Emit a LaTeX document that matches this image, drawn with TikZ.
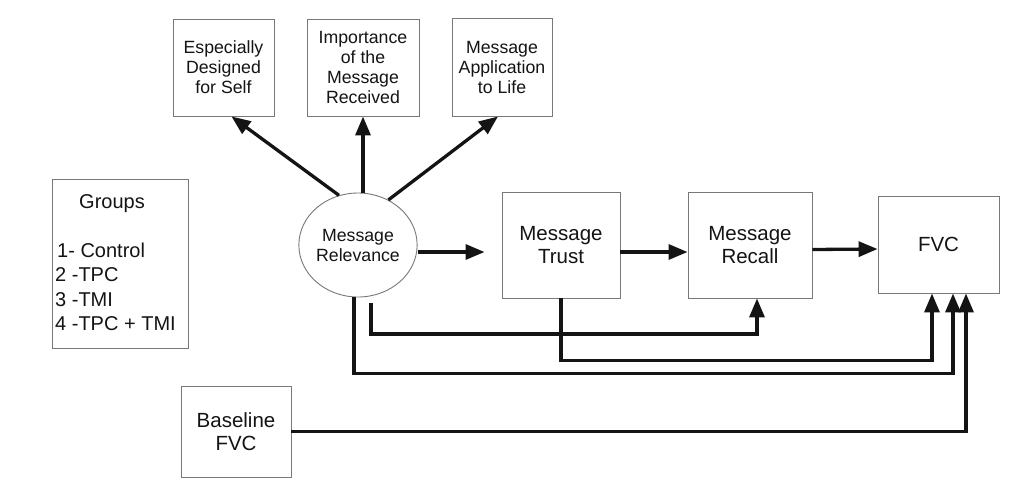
\documentclass[tikz,border=0pt]{standalone}
\usepackage{fontspec}
\setmainfont{Liberation Sans}
\usetikzlibrary{arrows.meta,shapes.geometric}
\definecolor{boxgray}{RGB}{120,120,120}
\definecolor{inkc}{RGB}{20,20,20}
\tikzset{
  box/.style={draw=boxgray, line width=0.9pt, fill=white, align=center, inner sep=0pt,
    text=inkc, font=\fontsize{17.7}{20}\selectfont},
  bigbox/.style={box, font=\fontsize{20.5}{23}\selectfont},
  arr/.style={draw=inkc, line width=3.3pt, -{Triangle[length=19pt,width=15pt]}},
  txt/.style={inner sep=0pt, text=inkc, font=\fontsize{20}{24}\selectfont, anchor=base west}
}
\begin{document}
\begin{tikzpicture}[x=1pt,y=-1pt]
\useasboundingbox (0,0) rectangle (1010,480);
% top boxes
\node[box, minimum width=101pt, minimum height=97pt] (b1) at (223.5,67.5) {Especially\\Designed\\for Self};
\node[box, minimum width=112pt, minimum height=97pt] (b2) at (363,67.5) {Importance\\of the\\Message\\Received};
\node[box, minimum width=100pt, minimum height=98pt] (b3) at (502,67) {Message\\Application\\to Life};
% relevance ellipse
\node[box, ellipse, minimum width=116pt, minimum height=104pt] (rel) at (358,245) {Message\\Relevance};
% main chain
\node[bigbox, minimum width=118pt, minimum height=106pt] (trust) at (561,245) {Message\\Trust};
\node[bigbox, minimum width=124pt, minimum height=106pt] (recall) at (750,245) {Message\\Recall};
\node[bigbox, minimum width=121pt, minimum height=97pt] (fvc) at (938.5,244.5) {FVC};
\node[bigbox, minimum width=110pt, minimum height=91pt] (base) at (236,431.5) {Baseline\\FVC};
% groups
\node[box, minimum width=136pt, minimum height=169pt] (groups) at (120,263.5) {};
\node[txt, anchor=base] (g0) at (112,208) {Groups};
\node[txt] (g1) at (57,257) {1- Control};
\node[txt] (g2) at (55,281) {2 -TPC};
\node[txt] (g3) at (55,306) {3 -TMI};
\node[txt] (g4) at (55,330) {4 -TPC + TMI};
% arrows to top boxes
\draw[arr] (rel.111) -- ([xshift=8pt]b1.south);
\draw[arr] (b2.south |- rel.north) -- (b2.south);
\draw[arr] (rel.56) -- ([xshift=-4pt]b3.south);
% chain arrows
\draw[arr, shorten >=17pt] ([yshift=-7pt]rel.east) -- ([yshift=-7pt]trust.west);
\draw[arr] ([yshift=-7pt]trust.east) -- ([yshift=-7pt]recall.west);
\draw[arr] ([yshift=-4.5pt]recall.east) -- ([yshift=-4.5pt]fvc.west);
% lower connectors
\coordinate (r1) at (371,303);
\draw[arr] (r1) -- ++(0,31) -| ([xshift=7pt]recall.south);
\draw[arr] (trust.south) -- ++(0,62) -| ([xshift=-6.5pt]fvc.south);
\draw[arr] ([xshift=-4pt]rel.south) -- ++(0,76) -| ([xshift=14.5pt]fvc.south);
\draw[arr] (base.east) -| ([xshift=27.5pt]fvc.south);
\end{tikzpicture}
\end{document}
